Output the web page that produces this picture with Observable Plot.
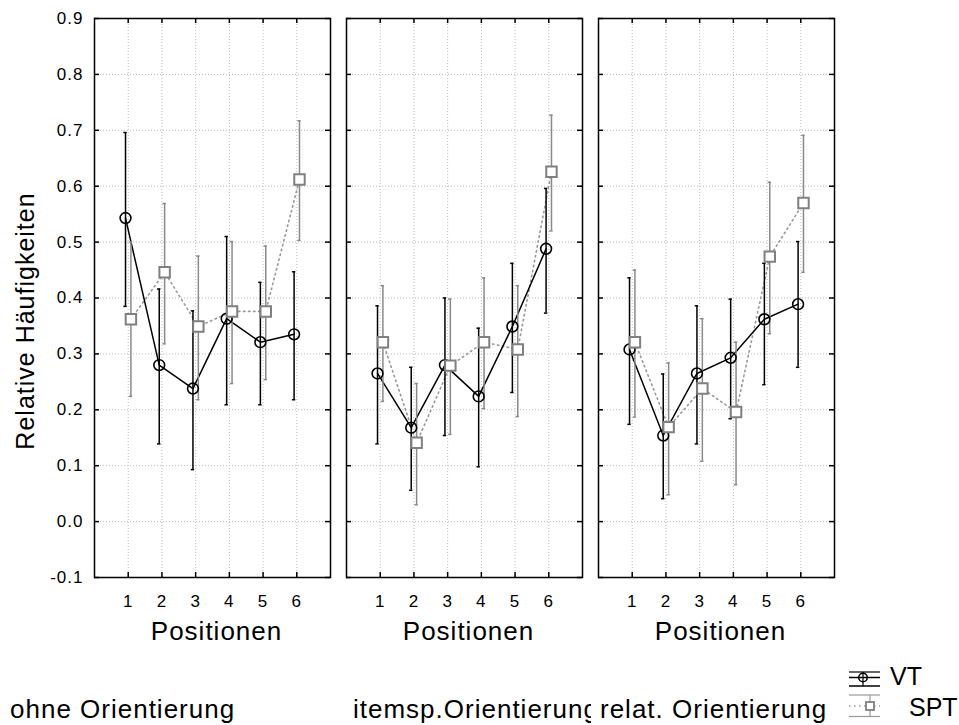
<!DOCTYPE html>
<html><head><meta charset="utf-8">
<script src="https://cdn.jsdelivr.net/npm/d3@7"></script>
<script src="https://cdn.jsdelivr.net/npm/@observablehq/plot@0.6"></script>
<style>
html,body{margin:0;padding:0;background:#fff;}
#wrap{position:relative;width:959px;height:725px;font-family:"Liberation Sans",Arial,sans-serif;}
#wrap > svg{display:block}
g[aria-description="ylabel"] text, g[aria-description="xlabel"] text {letter-spacing:1px}
g[aria-label="y-axis tick label"] text, g[aria-label="x-axis tick label"] text {letter-spacing:1px}
</style></head><body><div id="wrap"></div>
<script>
// ---------- data ----------
const panels = ["ohne Orientierung", "itemsp.Orientierung", "relat. Orientierung"];
const positions = [1, 2, 3, 4, 5, 6];
const yTicks = [-0.1, 0.0, 0.1, 0.2, 0.3, 0.4, 0.5, 0.6, 0.7, 0.8, 0.9];
const seriesNames = ["VT", "SPT"];
const yLabel = "Relative Häufigkeiten";
const xLabel = "Positionen";

// rows = panels, columns = positions
const vtMean = [
  [0.543, 0.280, 0.238, 0.363, 0.321, 0.335],
  [0.265, 0.168, 0.280, 0.224, 0.349, 0.488],
  [0.308, 0.154, 0.265, 0.293, 0.362, 0.389]
];
const vtLow = [
  [0.385, 0.139, 0.093, 0.209, 0.209, 0.218],
  [0.139, 0.056, 0.154, 0.098, 0.231, 0.373],
  [0.174, 0.041, 0.139, 0.184, 0.245, 0.276]
];
const vtHigh = [
  [0.696, 0.416, 0.377, 0.510, 0.428, 0.447],
  [0.386, 0.276, 0.400, 0.346, 0.462, 0.596],
  [0.436, 0.264, 0.386, 0.398, 0.462, 0.501]
];
const sptMean = [
  [0.362, 0.446, 0.349, 0.376, 0.376, 0.612],
  [0.321, 0.141, 0.279, 0.321, 0.308, 0.626],
  [0.321, 0.169, 0.238, 0.196, 0.474, 0.570]
];
const sptLow = [
  [0.224, 0.318, 0.218, 0.247, 0.254, 0.503],
  [0.215, 0.030, 0.156, 0.202, 0.188, 0.520],
  [0.187, 0.048, 0.108, 0.066, 0.336, 0.446]
];
const sptHigh = [
  [0.500, 0.569, 0.475, 0.501, 0.493, 0.717],
  [0.422, 0.247, 0.398, 0.436, 0.422, 0.727],
  [0.450, 0.284, 0.363, 0.321, 0.607, 0.691]
];

// ---------- build table ----------
function rowsFor(series, mean, low, high) {
  return panels.flatMap((panel, i) => positions.map((pos, j) => ({
    panel, pos, series, mean: mean[i][j], low: low[i][j], high: high[i][j]
  })));
}
const vt = rowsFor(seriesNames[0], vtMean, vtLow, vtHigh);
const spt = rowsFor(seriesNames[1], sptMean, sptLow, sptHigh);

const VT_OFF = -0.08, SPT_OFF = 0.08, CAP = 0.05;
const BLACK = "#000", GRAY = "#8a8a8a", GRAYLINE = "#999";

function errorMarks(rows, off, color) {
  return [
    Plot.ruleX(rows, {fx: "panel", x: d => d.pos + off, y1: "low", y2: "high", stroke: color, strokeWidth: 1.5}),
    Plot.ruleY(rows, {fx: "panel", y: "high", x1: d => d.pos + off - CAP, x2: d => d.pos + off + CAP, stroke: color, strokeWidth: 1.5}),
    Plot.ruleY(rows, {fx: "panel", y: "low", x1: d => d.pos + off - CAP, x2: d => d.pos + off + CAP, stroke: color, strokeWidth: 1.5})
  ];
}

const chart = Plot.plot({
  width: 959, height: 660,
  marginLeft: 93, marginRight: 125, marginTop: 18, marginBottom: 83,
  style: {fontFamily: '"Liberation Sans", Arial, sans-serif', fontSize: "17px", background: "white", color: "black"},
  fx: {domain: panels, paddingInner: 0.0653, paddingOuter: 0, axis: null, label: null},
  x: {domain: [0, 7]},
  y: {domain: [-0.1, 0.9]},
  marks: [
    // grid
    Plot.ruleY(yTicks, {y: d => d, stroke: "#bdbdbd", strokeWidth: 1, strokeDasharray: "1,2"}),
    Plot.ruleX(positions, {x: d => d, stroke: "#bdbdbd", strokeWidth: 1, strokeDasharray: "1,2"}),
    // inward ticks
    Plot.ruleX(positions, {x: d => d, insetBottom: 554, stroke: BLACK, strokeWidth: 1.5}),
    Plot.ruleX(positions, {x: d => d, insetTop: 554, stroke: BLACK, strokeWidth: 1.5}),
    Plot.ruleY(yTicks, {y: d => d, insetRight: 231, stroke: BLACK, strokeWidth: 1.5}),
    Plot.ruleY(yTicks, {y: d => d, insetLeft: 231, stroke: BLACK, strokeWidth: 1.5}),
    Plot.frame({stroke: BLACK, strokeWidth: 1.5}),
    // axes
    Plot.axisY({ticks: yTicks, tickSize: 0, tickPadding: 11, tickFormat: d => d.toFixed(1), fontSize: 17, label: null}),
    Plot.axisX({ticks: positions, tickSize: 0, tickPadding: 17, tickFormat: d => String(d), fontSize: 17, label: null}),
    // series lines
    Plot.line(spt, {fx: "panel", x: d => d.pos + SPT_OFF, y: "mean", stroke: GRAYLINE, strokeWidth: 1.6, strokeDasharray: "1.5,3.5"}),
    Plot.line(vt, {fx: "panel", x: d => d.pos + VT_OFF, y: "mean", stroke: BLACK, strokeWidth: 1.5}),
    // error bars
    ...errorMarks(vt, VT_OFF, BLACK),
    ...errorMarks(spt, SPT_OFF, GRAY),
    // markers
    Plot.dot(vt, {fx: "panel", x: d => d.pos + VT_OFF, y: "mean", r: 5.4, stroke: BLACK, strokeWidth: 1.6, fill: "none"}),
    Plot.dot(spt, {fx: "panel", x: d => d.pos + SPT_OFF, y: "mean", r: 5.9, symbol: "square", stroke: "#808080", strokeWidth: 2, fill: "white"}),
    // labels
    Plot.text([yLabel], {fx: () => panels[0], text: d => d, frameAnchor: "left", textAnchor: "middle", rotate: -90, dx: -69, dy: 23, fontSize: 25, fill: BLACK, ariaDescription: "ylabel"}),
    Plot.text([xLabel], {text: d => d, frameAnchor: "bottom", textAnchor: "middle", dx: 4, dy: 62, fontSize: 26, fill: BLACK, ariaDescription: "xlabel"})
  ]
});

const wrap = document.getElementById("wrap");
wrap.appendChild(chart);

// ---------- captions and legend (below the plot) ----------
const NS = "http://www.w3.org/2000/svg";
const ov = document.createElementNS(NS, "svg");
ov.setAttribute("width", 959); ov.setAttribute("height", 725);
ov.style.position = "absolute"; ov.style.left = "0"; ov.style.top = "0";
ov.style.fontFamily = '"Liberation Sans", Arial, sans-serif';
function el(tag, attrs, parent) {
  const e = document.createElementNS(NS, tag);
  for (const k in attrs) e.setAttribute(k, attrs[k]);
  (parent || ov).appendChild(e);
  return e;
}
const defs = el("defs", {});
const cp = el("clipPath", {id: "cap2clip"}, defs);
el("rect", {x: 330, y: 660, width: 261, height: 65}, cp);

const captionX = [10, 353, 600];
panels.forEach((p, i) => {
  const t = el("text", {x: captionX[i], y: 718, "font-size": 26, "letter-spacing": "1px", fill: "#000"});
  if (i === 1) t.setAttribute("clip-path", "url(#cap2clip)");
  t.textContent = p;
});

// legend: VT
const L = 3; // vertical nudge
el("line", {x1: 849, x2: 880, y1: 669 + L, y2: 669 + L, stroke: "#000", "stroke-width": 1.2});
el("line", {x1: 849, x2: 880, y1: 674.5 + L, y2: 674.5 + L, stroke: "#000", "stroke-width": 1.5});
el("line", {x1: 849, x2: 880, y1: 683 + L, y2: 683 + L, stroke: "#000", "stroke-width": 1.5});
el("line", {x1: 863, x2: 863, y1: 669 + L, y2: 683 + L, stroke: "#000", "stroke-width": 1.2});
el("circle", {cx: 863, cy: 674.5 + L, r: 4.3, fill: "none", stroke: "#000", "stroke-width": 1.5});
el("text", {x: 890, y: 682 + L, "font-size": 25, fill: "#000"}).textContent = seriesNames[0];
// legend: SPT
el("line", {x1: 849, x2: 880, y1: 692 + L, y2: 692 + L, stroke: GRAYLINE, "stroke-width": 1.2});
el("line", {x1: 849, x2: 880, y1: 703 + L, y2: 703 + L, stroke: GRAYLINE, "stroke-width": 1.5, "stroke-dasharray": "1.5,3.5"});
el("line", {x1: 849, x2: 880, y1: 713.5 + L, y2: 713.5 + L, stroke: GRAYLINE, "stroke-width": 1.2});
el("line", {x1: 870, x2: 870, y1: 692 + L, y2: 713.5 + L, stroke: GRAYLINE, "stroke-width": 1.2});
el("rect", {x: 866, y: 699 + L, width: 8, height: 8, fill: "white", stroke: "#808080", "stroke-width": 1.8});
el("text", {x: 909, y: 713 + L, "font-size": 25, fill: "#000"}).textContent = seriesNames[1];

wrap.appendChild(ov);
</script></body></html>
